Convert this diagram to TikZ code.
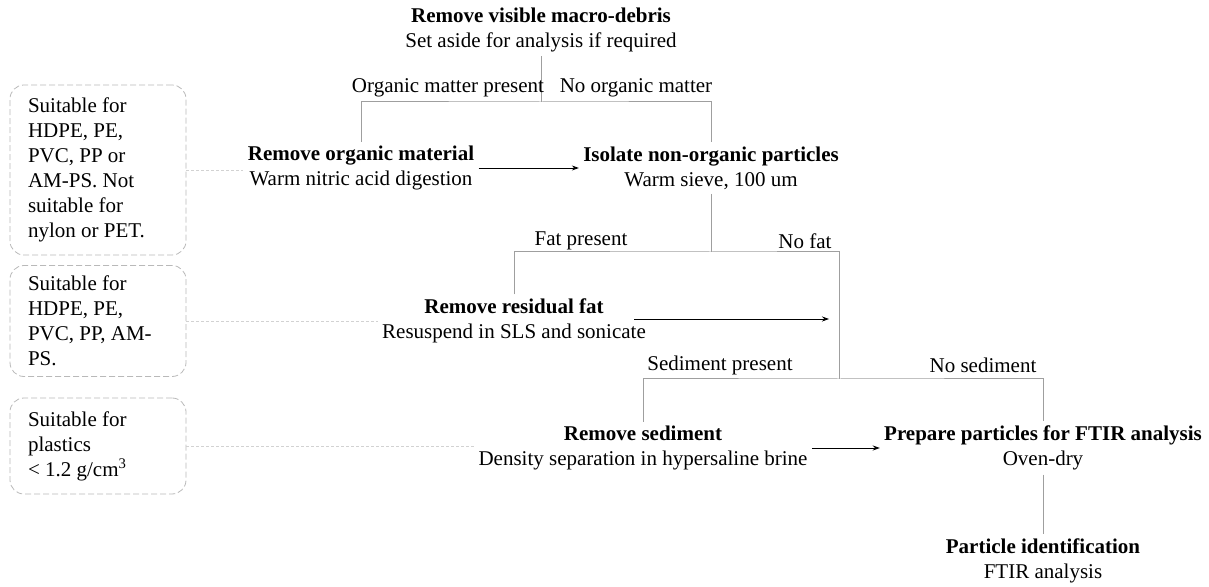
\documentclass[tikz,border=0pt]{standalone}
\usepackage{fontspec}
\setmainfont{Liberation Serif}
\usetikzlibrary{arrows.meta}

\begin{document}
\begin{tikzpicture}[
    x=0.5pt, y=-0.5pt,
    every node/.style={font=\fontsize{10.5}{12.5}\selectfont},
    stage/.style={align=center, inner sep=2pt},
    note/.style={draw=gray!55, dash pattern=on 3pt off 1.5pt, rounded corners=7pt,
                 align=flush left, text width=70pt, inner xsep=9pt,
                 minimum width=88pt},
    link/.style={draw=gray!75, line width=0.5pt},
    arr/.style={-{Stealth[length=3.5pt,width=2.5pt]}, line width=0.4pt},
    hint/.style={draw=gray!35, dash pattern=on 1.5pt off 1pt, line width=0.4pt},
    lbl/.style={inner sep=1pt},
]
\useasboundingbox (0,0) rectangle (1209,587);

% process steps
\node[stage] (debris) at (541,30)  {\textbf{Remove visible macro-debris}\\Set aside for analysis if required};
\node[stage] (orgm)   at (361,168) {\textbf{Remove organic material}\\Warm nitric acid digestion};
\node[stage] (iso)    at (711,168) {\textbf{Isolate non-organic particles}\\Warm sieve, 100 um};
\node[stage] (fat)    at (514,321) {\textbf{Remove residual fat}\\Resuspend in SLS and sonicate};
\node[stage] (sed)    at (643,448) {\textbf{Remove sediment}\\Density separation in hypersaline brine};
\node[stage] (prep)   at (1043,448) {\textbf{Prepare particles for FTIR analysis}\\Oven-dry};
\node[stage] (ident)  at (1043,561) {\textbf{Particle identification}\\FTIR analysis};

% side notes
\node[note, minimum height=85pt]   (note1) at (98,170) {Suitable for\\HDPE, PE,\\PVC, PP or\\AM-PS. Not\\suitable for\\nylon or PET.};
\node[note, minimum height=55.5pt] (note2) at (98,321) {Suitable for\\HDPE, PE,\\PVC, PP, AM-\\PS.};
\node[note, minimum height=48pt]   (note3) at (98,446) {Suitable for\\plastics\\< 1.2 g/cm\textsuperscript{3}};

% junctions
\coordinate (j1) at (541,102);
\coordinate (j2) at (711,252);
\coordinate (j3) at (839,379);
\coordinate (fatjoin) at (829,319);

\draw[link] (debris) -- (j1);
\draw[link] (orgm.north) |- (j1) -| (iso.north);
\draw[link] (iso) -- (j2);
\draw[link] (fat.north) |- (j2) -| (j3);
\draw[link] (sed.north) |- (j3) -| (prep.north);
\draw[link] (prep) -- (ident);

\draw[arr] ([xshift=-8pt]fat.east |- fatjoin) -- (fatjoin);
\draw[arr] (orgm) -- (iso);
\draw[arr] (sed) -- (prep);

\draw[hint] (note1.east) -- (note1.east -| orgm.west);
\draw[hint] (note2.east) -- (note2.east -| fat.west);
\draw[hint] (note3.east) -- (note3.east -| sed.west);

% branch labels
\node[lbl] (l1) at (448,88)  {Organic matter present};
\node[lbl] (l2) at (636,88)  {No organic matter};
\node[lbl] (l3) at (581,241) {Fat present};
\node[lbl] (l4) at (805,241) {No fat};
\node[lbl] (l5) at (720,365) {Sediment present};
\node[lbl] (l6) at (983,365) {No sediment};
\end{tikzpicture}
\end{document}
